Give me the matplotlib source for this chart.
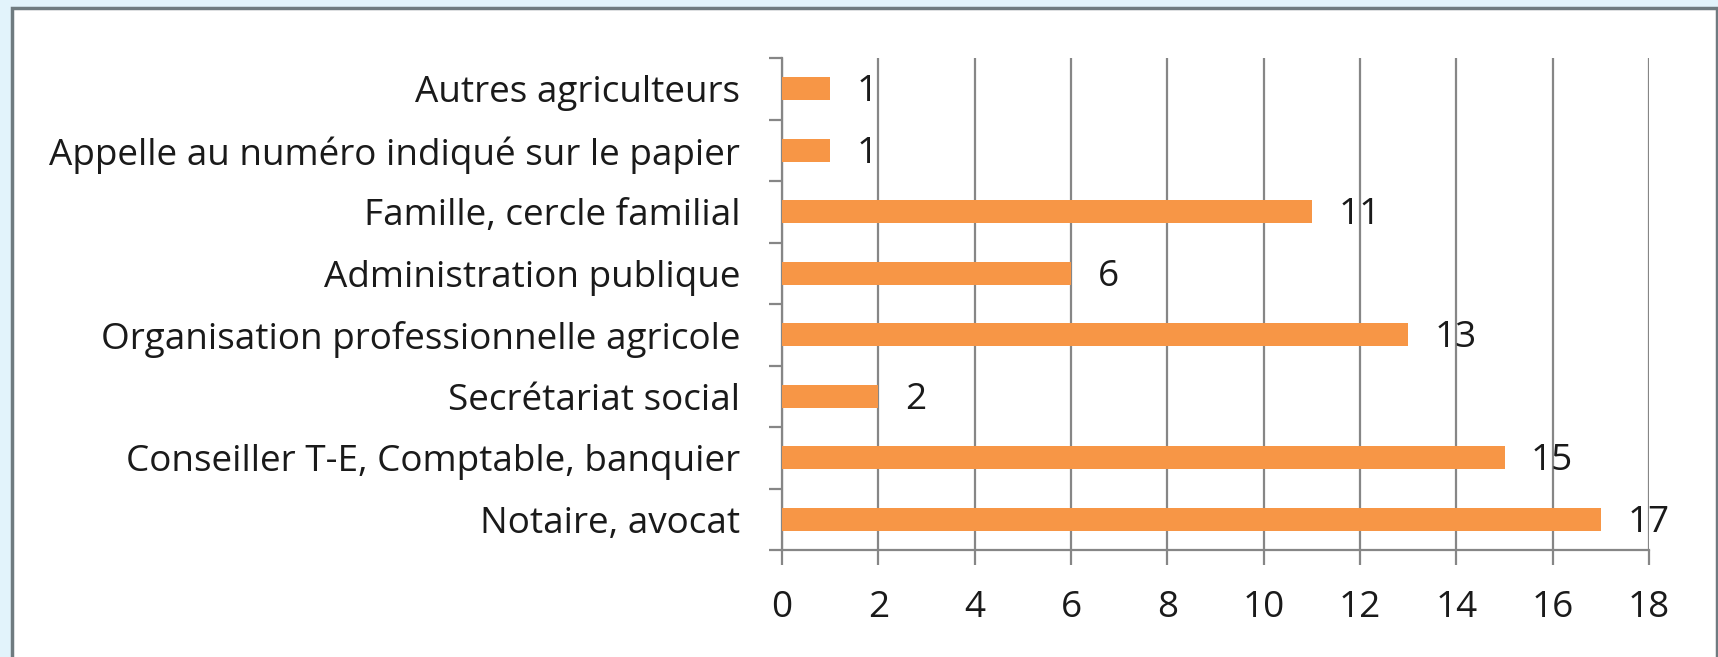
import matplotlib.pyplot as plt
from matplotlib.patches import Rectangle
from matplotlib.ticker import MultipleLocator, FixedLocator

plt.rcParams['font.family'] = ['Open Sans', 'DejaVu Sans']

# Sources d'information (du bas vers le haut)
categories = [
    'Notaire, avocat',
    'Conseiller T-E, Comptable, banquier',
    'Secrétariat social',
    'Organisation professionnelle agricole',
    'Administration publique',
    'Famille, cercle familial',
    'Appelle au numéro indiqué sur le papier',
    'Autres agriculteurs',
]
counts = [17, 15, 2, 13, 6, 11, 1, 1]
x_ticks = [0, 2, 4, 6, 8, 10, 12, 14, 16, 18]

bar_color = '#F79646'
grid_color = '#868686'
text_color = '#1a1a1a'
font_size = 26.6

fig = plt.figure(figsize=(17.18, 6.57), dpi=100)
fig.patch.set_facecolor('#e2f3fb')

# cadre blanc du graphique
frame = Rectangle((12 / 1718, -0.01), 1 - 13 / 1718, 1 - 8 / 657 + 0.01,
                  transform=fig.transFigure, facecolor='white',
                  edgecolor='#6f7b80', linewidth=2.5, zorder=-10)
fig.patches.append(frame)

ax = fig.add_axes([782 / 1718, 1 - 550 / 657, 867 / 1718, 492 / 657])
ax.set_facecolor('none')
ax.set_zorder(5)

y = range(len(categories))
ax.barh(y, counts, height=0.375, color=bar_color, zorder=3)

for yi, v in zip(y, counts):
    ax.text(v + 0.55, yi - 0.06, str(v), va='center', ha='left',
            fontsize=font_size, color=text_color, zorder=4)

ax.set_xlim(0, 18)
ax.set_ylim(-0.5, len(categories) - 0.5)
ax.xaxis.set_major_locator(FixedLocator(x_ticks))
ax.xaxis.grid(True, color=grid_color, linewidth=1.6, zorder=1)
ax.tick_params(axis='x', length=11, width=1.6, color=grid_color,
               labelsize=font_size, labelcolor=text_color, pad=18)

ax.set_yticks(list(y))
ax.set_yticklabels(categories)
ax.yaxis.set_minor_locator(MultipleLocator(1, offset=0.5))
ax.tick_params(axis='y', which='major', length=0, labelsize=font_size,
               labelcolor=text_color, pad=30)
ax.tick_params(axis='y', which='minor', length=9.5, width=1.6,
               color=grid_color)

for side in ['top', 'right']:
    ax.spines[side].set_visible(False)
for side in ['left', 'bottom']:
    ax.spines[side].set_color(grid_color)
    ax.spines[side].set_linewidth(1.6)

fig.savefig('out.png', dpi=100, facecolor=fig.get_facecolor())
